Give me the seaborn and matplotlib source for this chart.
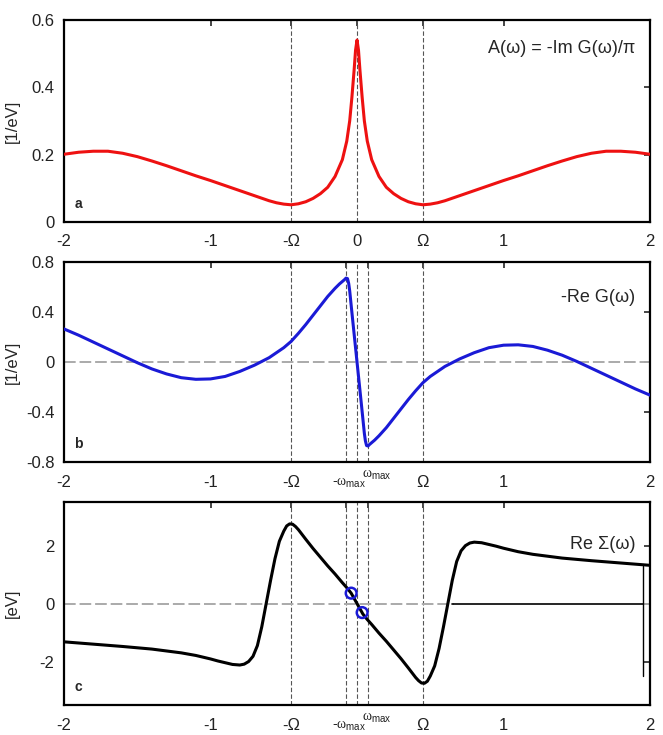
import numpy as np
import pandas as pd
import seaborn as sns
import matplotlib.pyplot as plt
from matplotlib.patches import Rectangle
from matplotlib.transforms import ScaledTranslation

# characteristic energies (eV)
OMEGA = 0.45
W_MAX = 0.075

# panel a : spectral function A(w)
omega_a = [-2.0, -1.9, -1.8, -1.7, -1.6, -1.5, -1.4, -1.3, -1.2, -1.1, -1.0, -0.9, -0.8, -0.7, -0.6,
           -0.55, -0.5, -0.45, -0.4, -0.35, -0.3, -0.25, -0.2, -0.15, -0.1,
           -0.07, -0.05, -0.035, -0.02, -0.01, 0.0, 0.01, 0.02, 0.035, 0.05, 0.07,
           0.1, 0.15, 0.2, 0.25, 0.3, 0.35, 0.4, 0.45, 0.5, 0.55,
           0.6, 0.7, 0.8, 0.9, 1.0, 1.1, 1.2, 1.3, 1.4, 1.5, 1.6, 1.7, 1.8, 1.9, 2.0]
spec_a = [0.201, 0.207, 0.210, 0.210, 0.204, 0.194, 0.181, 0.167, 0.152, 0.137, 0.123, 0.108, 0.093, 0.078, 0.063,
          0.057, 0.053, 0.051, 0.054, 0.060, 0.070, 0.084, 0.103, 0.135, 0.185,
          0.240, 0.300, 0.370, 0.450, 0.510, 0.540, 0.510, 0.450, 0.370, 0.300, 0.240,
          0.185, 0.135, 0.103, 0.084, 0.070, 0.060, 0.054, 0.051, 0.053, 0.057,
          0.063, 0.078, 0.093, 0.108, 0.123, 0.137, 0.152, 0.167, 0.181, 0.194, 0.204, 0.210, 0.210, 0.207, 0.201]

# panel b : -Re G(w)
omega_b = [-2.0, -1.9, -1.8, -1.7, -1.6, -1.5, -1.4, -1.3, -1.2, -1.1, -1.0, -0.9, -0.8, -0.7, -0.6,
           -0.5, -0.45, -0.4, -0.35, -0.3, -0.25, -0.2, -0.15, -0.12, -0.1,
           -0.085, -0.075, -0.065, -0.057, -0.05, -0.04, -0.03, -0.015, 0.0,
           0.015, 0.03, 0.04, 0.05, 0.057, 0.065, 0.075, 0.085,
           0.1, 0.12, 0.15, 0.2, 0.25, 0.3, 0.35, 0.4, 0.45, 0.5,
           0.6, 0.7, 0.8, 0.9, 1.0, 1.1, 1.2, 1.3, 1.4, 1.5, 1.6, 1.7, 1.8, 1.9, 2.0]
reg_b = [0.265, 0.215, 0.160, 0.105, 0.050, -0.005, -0.055, -0.095, -0.125, -0.138, -0.135, -0.115, -0.075, -0.025, 0.035,
         0.115, 0.165, 0.230, 0.300, 0.375, 0.450, 0.525, 0.590, 0.625, 0.645,
         0.660, 0.672, 0.668, 0.630, 0.570, 0.455, 0.340, 0.170, 0.0,
         -0.170, -0.340, -0.455, -0.570, -0.630, -0.668, -0.672, -0.660,
         -0.645, -0.625, -0.590, -0.525, -0.450, -0.375, -0.300, -0.230, -0.165, -0.115,
         -0.035, 0.025, 0.075, 0.115, 0.135, 0.138, 0.125, 0.095, 0.055, 0.005, -0.050, -0.105, -0.160, -0.215, -0.265]

# panel c : Re Sigma(w)
omega_c = [-2.0, -1.8, -1.6, -1.4, -1.2, -1.1, -1.0, -0.95, -0.9, -0.85, -0.8, -0.77, -0.74, -0.71, -0.68,
           -0.65, -0.62, -0.59, -0.56, -0.53, -0.5, -0.48, -0.46, -0.44, -0.42, -0.4,
           -0.35, -0.3, -0.25, -0.2, -0.15, -0.1, -0.07, -0.04, -0.02, 0.0,
           0.02, 0.04, 0.07, 0.1, 0.15, 0.2, 0.25, 0.3, 0.35,
           0.4, 0.42, 0.44, 0.46, 0.48, 0.5, 0.53, 0.56, 0.59, 0.62, 0.65,
           0.68, 0.71, 0.74, 0.77, 0.8, 0.85, 0.9, 0.95, 1.0, 1.1, 1.2, 1.4, 1.6, 1.8, 2.0]
resig_c = [-1.32, -1.40, -1.48, -1.57, -1.70, -1.79, -1.91, -1.98, -2.04, -2.10, -2.12, -2.09, -2.00, -1.82, -1.45,
           -0.80, 0.0, 0.80, 1.55, 2.15, 2.50, 2.68, 2.75, 2.74, 2.66, 2.55,
           2.22, 1.90, 1.60, 1.30, 1.02, 0.72, 0.55, 0.36, 0.18, 0.0,
           -0.18, -0.36, -0.55, -0.72, -1.02, -1.30, -1.60, -1.90, -2.22,
           -2.55, -2.66, -2.74, -2.75, -2.68, -2.50, -2.15, -1.55, -0.80, 0.0, 0.80,
           1.45, 1.82, 2.00, 2.09, 2.12, 2.10, 2.04, 1.98, 1.91, 1.79, 1.70, 1.57, 1.48, 1.40, 1.32]

# marked points on Re Sigma
circ_x = [-0.04, 0.035]
circ_y = [0.36, -0.31]

# white patch with black lines seen in panel c of the scan
patch_x = [0.66, 1.95]
patch_y = [-2.5, 1.29]

xt_a = [-2, -1, -OMEGA, 0, OMEGA, 1, 2]
xl_a = ['-2', '-1', '-Ω', '0', 'Ω', '1', '2']
xt_bc = [-2, -1, -OMEGA, -W_MAX, W_MAX, OMEGA, 1, 2]
xl_bc = ['-2', '-1', '-Ω', r'-$\omega_{\rm max}$', r'$\omega_{\rm max}$', 'Ω', '1', '2']

sns.set_theme(style='white')
plt.rcParams['font.family'] = ['Liberation Sans', 'DejaVu Sans']
plt.rcParams['mathtext.fontset'] = 'custom'
plt.rcParams['mathtext.rm'] = 'Liberation Sans'
plt.rcParams['mathtext.it'] = 'Liberation Serif'
plt.rcParams['axes.unicode_minus'] = False

fig = plt.figure(figsize=(6.63, 7.35), dpi=100)
ax_a = fig.add_axes([0.0965, 0.698, 0.884, 0.275])
ax_b = fig.add_axes([0.0965, 0.3714, 0.884, 0.272])
ax_c = fig.add_axes([0.0965, 0.0408, 0.884, 0.276])


def style(ax, xt, xl, yt, yl, vlines, zero):
    for s in ax.spines.values():
        s.set_visible(True)
        s.set_linewidth(1.6)
        s.set_color('black')
    for v in vlines:
        ax.axvline(v, color='#555555', lw=0.8, ls=(0, (4, 2)), zorder=1)
    if zero:
        ax.axhline(0, color='#aaaaaa', lw=1.4, ls=(0, (6, 2)), zorder=1)
    ax.set_xlim(-2, 2)
    ax.set_xticks(xt, xl)
    ax.set_yticks(yt, yl)
    ax.tick_params(direction='in', top=True, right=True, length=4, width=1.2,
                   labelsize=12, pad=7, labelcolor='#222222')
    ax.tick_params(axis='x', pad=9)
    for lab in ax.get_xticklabels():
        if 'omega' in lab.get_text():
            lab.set_fontsize(10)


style(ax_a, xt_a, xl_a, [0, 0.2, 0.4, 0.6], ['0', '0.2', '0.4', '0.6'], [-OMEGA, 0, OMEGA], False)
style(ax_b, xt_bc, xl_bc, [-0.8, -0.4, 0, 0.4, 0.8], ['-0.8', '-0.4', '0', '0.4', '0.8'],
      [-OMEGA, -W_MAX, 0, W_MAX, OMEGA], True)
style(ax_c, xt_bc, xl_bc, [-2, 0, 2], ['-2', '0', '2'], [-OMEGA, -W_MAX, 0, W_MAX, OMEGA], True)

sns.lineplot(x=omega_a, y=spec_a, ax=ax_a, color='#ee1111', lw=2.2, zorder=3)
sns.lineplot(x=omega_b, y=reg_b, ax=ax_b, color='#1a1ad6', lw=2.2, zorder=3)

ax_c.add_patch(Rectangle((patch_x[0], patch_y[0]), patch_x[1] - patch_x[0], patch_y[1] - patch_y[0],
                         facecolor='white', edgecolor='none', zorder=2))
ax_c.plot([patch_x[0] - 0.01, patch_x[1]], [0, 0], color='black', lw=1.2, zorder=2.5)
ax_c.plot([patch_x[1], patch_x[1]], patch_y, color='black', lw=1.0, zorder=2.5)

sns.lineplot(x=omega_c, y=resig_c, ax=ax_c, color='black', lw=2.2, zorder=3)
sns.scatterplot(x=circ_x, y=circ_y, ax=ax_c, marker='o', s=60, facecolors='none',
                edgecolors='#1a1ad6', linewidth=1.8, zorder=5)

ax_a.set_ylim(0, 0.6)
ax_b.set_ylim(-0.8, 0.8)
ax_c.set_ylim(-3.5, 3.5)

# -w_max sits a bit low, w_max a bit high and to the right
for ax in (ax_b, ax_c):
    ticks = ax.xaxis.get_major_ticks()
    ticks[3].set_pad(10)
    ticks[4].set_pad(4)
    labs = ax.get_xticklabels()
    labs[3].set_transform(labs[3].get_transform() + ScaledTranslation(0.03, 0, fig.dpi_scale_trans))
    labs[4].set_transform(labs[4].get_transform() + ScaledTranslation(0.09, 0, fig.dpi_scale_trans))

ax_a.set_ylabel('[1/eV]', fontsize=12)
ax_b.set_ylabel('[1/eV]', fontsize=12)
ax_c.set_ylabel('[eV]', fontsize=12)
for ax in (ax_a, ax_b, ax_c):
    ax.yaxis.set_label_coords(-0.075, 0.5)

ax_a.text(0.975, 0.86, 'A(ω) = -Im G(ω)/π', ha='right', va='center', fontsize=13, transform=ax_a.transAxes)
ax_b.text(0.975, 0.825, '-Re G(ω)', ha='right', va='center', fontsize=13, transform=ax_b.transAxes)
ax_c.text(0.975, 0.79, 'Re Σ(ω)', ha='right', va='center', fontsize=13, transform=ax_c.transAxes)

for ax, letter in ((ax_a, 'a'), (ax_b, 'b'), (ax_c, 'c')):
    ax.text(0.018, 0.07, letter, fontsize=10, fontweight='bold', transform=ax.transAxes)

fig.savefig('out.png', dpi=100)
